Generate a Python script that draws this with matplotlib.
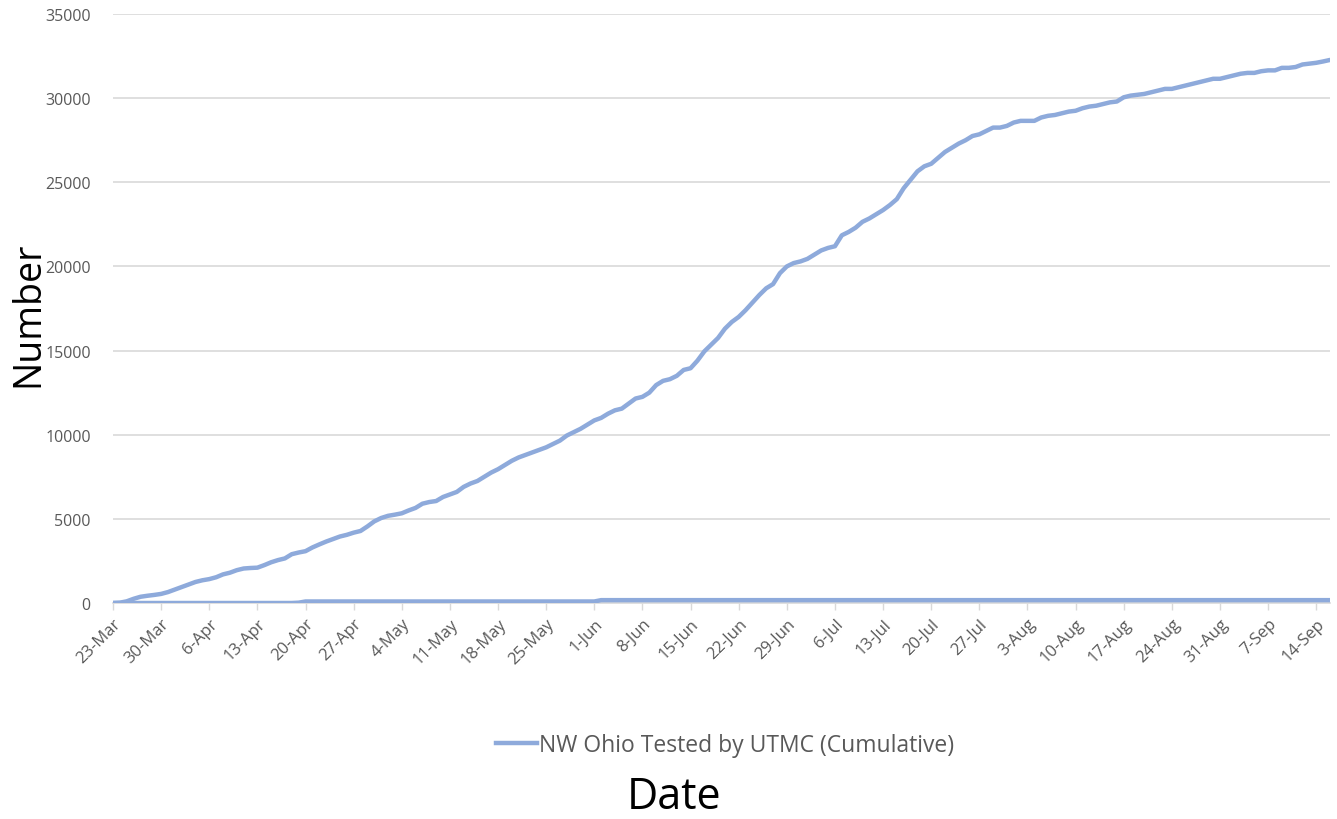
import matplotlib
matplotlib.use("Agg")
import matplotlib.pyplot as plt
from matplotlib.lines import Line2D
import numpy as np
import pandas as pd

plt.rcParams['font.family'] = ['Open Sans', 'DejaVu Sans']

# Daily dates, 23 Mar to 16 Sep 2020
dates = pd.date_range("2020-03-23", "2020-09-16", freq="D")

# Cumulative number tested by UTMC
tested_cumulative = [
    0, 20, 100, 250, 370, 430, 480, 540, 650, 800,
    950, 1100, 1250, 1350, 1420, 1530, 1700, 1800, 1950, 2050,
    2080, 2100, 2250, 2420, 2550, 2650, 2900, 3000, 3080, 3300,
    3480, 3650, 3800, 3950, 4050, 4180, 4280, 4550, 4850, 5050,
    5180, 5250, 5330, 5500, 5650, 5900, 6000, 6060, 6300, 6450,
    6600, 6900, 7100, 7250, 7500, 7750, 7950, 8200, 8450, 8650,
    8800, 8950, 9100, 9250, 9450, 9650, 9950, 10150, 10350, 10600,
    10850, 11000, 11250, 11450, 11550, 11850, 12150, 12250, 12500, 12950,
    13200, 13300, 13500, 13850, 13950, 14400, 14950, 15350, 15750, 16300,
    16700, 17000, 17400, 17850, 18300, 18700, 18950, 19600, 20000, 20200,
    20300, 20450, 20700, 20950, 21100, 21200, 21850, 22050, 22300, 22650,
    22850, 23100, 23350, 23650, 24000, 24650, 25150, 25650, 25950, 26100,
    26450, 26800, 27050, 27300, 27500, 27750, 27850, 28050, 28250, 28250,
    28350, 28550, 28650, 28650, 28650, 28850, 28950, 29000, 29100, 29200,
    29250, 29400, 29500, 29550, 29650, 29750, 29800, 30050, 30150, 30200,
    30250, 30350, 30450, 30550, 30550, 30650, 30750, 30850, 30950, 31050,
    31150, 31150, 31250, 31350, 31450, 31500, 31500, 31600, 31650, 31650,
    31800, 31800, 31850, 32000, 32050, 32100, 32180, 32270,
]

# Second series along the bottom (unlabelled in the legend)
lower_series = (
    [0, 0, 0, 0, 0, 0, 0, 0, 0, 0, 0, 0, 0, 0,
     0, 0, 0, 0, 0, 0, 0, 0, 0, 0, 0, 0, 0, 20]
    + [90] * 43
    + [170] * 107
)

tick_labels = ["23-Mar", "30-Mar", "6-Apr", "13-Apr", "20-Apr", "27-Apr", "4-May",
               "11-May", "18-May", "25-May", "1-Jun", "8-Jun", "15-Jun", "22-Jun",
               "29-Jun", "6-Jul", "13-Jul", "20-Jul", "27-Jul", "3-Aug", "10-Aug",
               "17-Aug", "24-Aug", "31-Aug", "7-Sep", "14-Sep"]

line_color = "#8eaadb"
grid_color = "#d9d9d9"
text_gray = "#595959"

fig = plt.figure(figsize=(13.37, 8.20), dpi=100)
ax = fig.add_axes([113 / 1337, 1 - 604 / 820, (1330 - 113) / 1337, (604 - 15) / 820])

x = np.arange(len(dates))
ax.plot(x, lower_series, color=line_color, lw=3.2, solid_capstyle="round", zorder=3)
ax.plot(x, tested_cumulative, color=line_color, lw=3.2, solid_capstyle="round", zorder=3)

ax.set_xlim(0, len(dates) - 1)
ax.set_ylim(0, 35000)
ax.set_yticks(np.arange(0, 35001, 5000))
ax.tick_params(axis="y", length=0, pad=16, labelsize=11.5, labelcolor=text_gray)
ax.yaxis.grid(True, color=grid_color, lw=1.2)
ax.set_axisbelow(True)

tick_pos = np.arange(0, len(dates), 7)
ax.set_xticks(tick_pos)
ax.set_xticklabels(tick_labels, rotation=45, ha="right", rotation_mode="anchor")
ax.tick_params(axis="x", length=5, width=1, color=grid_color, labelsize=12,
               labelcolor=text_gray, pad=4)

for s in ["top", "right", "left"]:
    ax.spines[s].set_visible(False)
ax.spines["bottom"].set_color(grid_color)
ax.spines["bottom"].set_linewidth(1.2)

handle = Line2D([], [], color=line_color, lw=3.2)
fig.legend([handle], ["NW Ohio Tested by UTMC (Cumulative)"], loc="center",
           bbox_to_anchor=(725 / 1337, 1 - 746 / 820), frameon=False,
           fontsize=16.5, labelcolor=text_gray, handlelength=1.8, handletextpad=0.1)

fig.text(674 / 1337, 1 - 798 / 820, "Date", ha="center", va="center", fontsize=31,
         color="black")
fig.text(28 / 1337, 1 - 314 / 820, "Number", ha="center", va="center", fontsize=27,
         rotation=90, color="black")

fig.savefig("out.png", dpi=100)
